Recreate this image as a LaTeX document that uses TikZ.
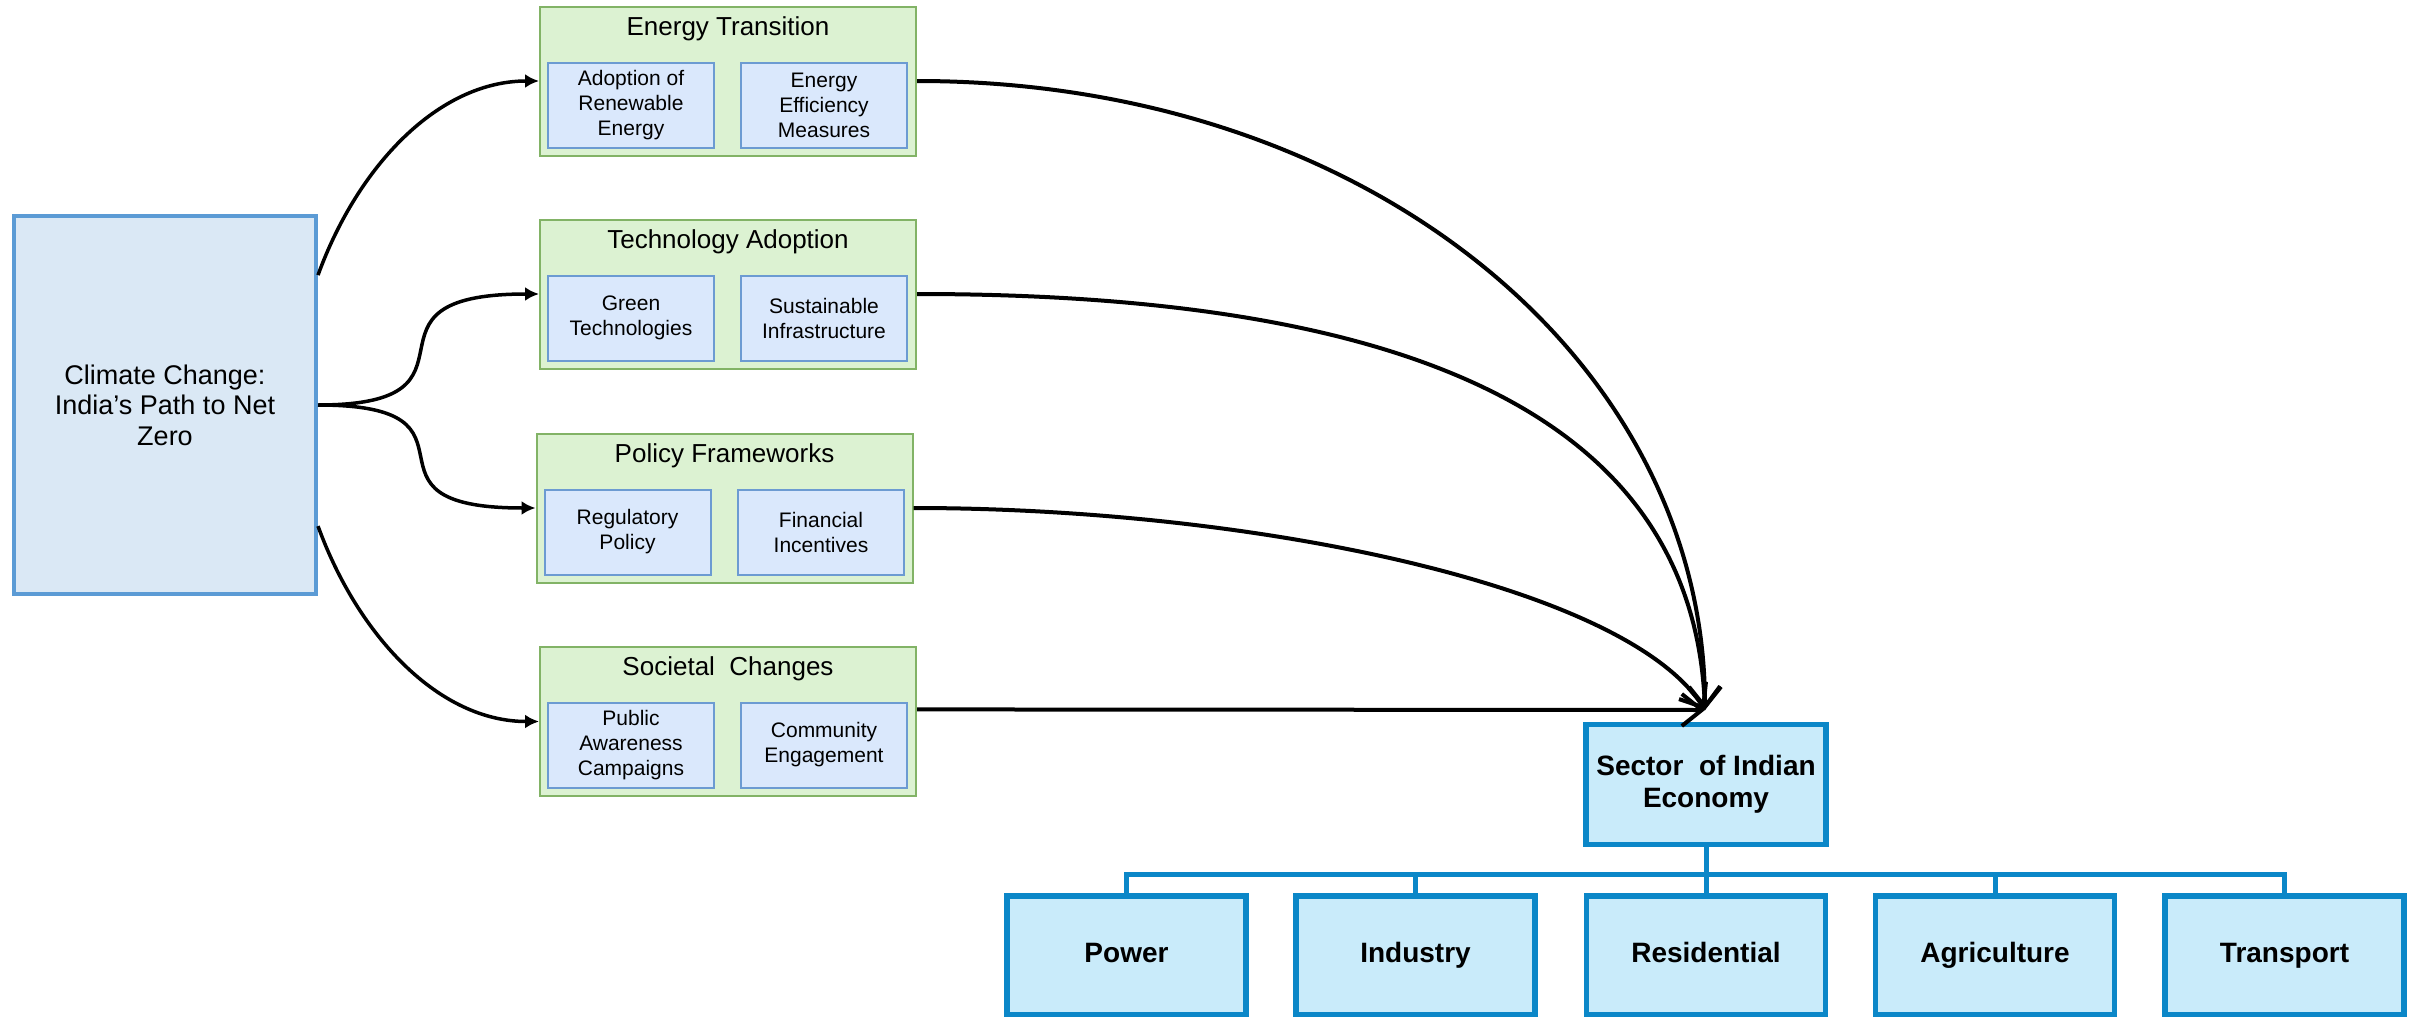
\documentclass[tikz,border=0pt]{standalone}
\usepackage{fontspec}
\setmainfont{Liberation Sans}
\usetikzlibrary{arrows.meta,calc}
\definecolor{climF}{HTML}{DAE8F5}
\definecolor{climB}{HTML}{5B9BD5}
\definecolor{grpF}{HTML}{DCF2D2}
\definecolor{grpB}{HTML}{82B366}
\definecolor{subF}{HTML}{DAE8FC}
\definecolor{subB}{HTML}{6C9BD2}
\definecolor{secF}{HTML}{C9EBFA}
\definecolor{secB}{HTML}{0B87C8}
\tikzset{
 climbox/.style={draw=climB, fill=climF, line width=4pt, minimum width=302pt, minimum height=378pt, inner sep=0pt, font=\fontsize{27}{30.5}\selectfont, align=center},
 grpbox/.style={draw=grpB, fill=grpF, line width=2pt, minimum width=376pt, minimum height=149pt, inner sep=0pt},
 grptitle/.style={font=\fontsize{26}{30}\selectfont, inner sep=0pt},
 subbox/.style={draw=subB, fill=subF, line width=2pt, minimum width=166pt, minimum height=85pt, inner sep=0pt, align=center, font=\fontsize{21}{25}\selectfont},
 secbox/.style={draw=secB, fill=secF, line width=5.5pt, minimum width=240pt, minimum height=120pt, inner sep=0pt, align=center, font=\bfseries\fontsize{28}{32}\selectfont},
 leafbox/.style={secbox, minimum width=239pt, minimum height=119pt, text height=20pt, text depth=6pt},
 tree/.style={draw=secB, line width=5pt},
 larrow/.style={-{Latex[length=14pt,width=14pt]}, line width=3.5pt},
 rarrow/.style={-{Straight Barb[length=20pt,width=32pt]}, line width=4pt},
}
\begin{document}
\begin{tikzpicture}[x=1pt,y=-1pt]
\useasboundingbox (0,0) rectangle (2415,1017);

% main source box
\node[climbox] (climate) at (165,405) {Climate Change:\\India’s Path to Net\\Zero};

% group boxes
\node[grpbox] (et) at (728,81) {};
\node[grptitle] (ett) at (728,29) {Energy Transition};
\node[subbox] (et1) at (631,105.5) {Adoption of\\Renewable\\Energy};
\node[subbox] (et2) at (824,105.5) {Energy\\Efficiency\\Measures};

\node[grpbox] (ta) at (728,294) {};
\node[grptitle] (tat) at (728,242) {Technology Adoption};
\node[subbox] (ta1) at (631,318) {Green\\Technologies};
\node[subbox] (ta2) at (824,318) {Sustainable\\Infrastructure};

\node[grpbox] (pf) at (724.5,508) {};
\node[grptitle] (pft) at (724.5,456) {Policy Frameworks};
\node[subbox] (pf1) at (627.5,532) {Regulatory\\Policy};
\node[subbox] (pf2) at (821,532) {Financial\\Incentives};

\node[grpbox] (sc) at (728,721.5) {};
\node[grptitle] (sct) at (728,669) {Societal~ Changes};
\node[subbox] (sc1) at (631,745) {Public\\Awareness\\Campaigns};
\node[subbox] (sc2) at (824,745) {Community\\Engagement};

% sector tree
\node[secbox] (sector) at (1706,784.5) {Sector\ \ of Indian\\Economy};
\node[leafbox] (power) at (1126.5,955.5) {Power};
\node[leafbox] (industry) at (1415.5,955.5) {Industry};
\node[leafbox] (resid) at (1706,955.5) {Residential};
\node[leafbox] (agri) at (1995,955.5) {Agriculture};
\node[leafbox] (transp) at (2284.5,955.5) {Transport};

\coordinate (hub) at ($(sector.south)+(0,27)$);
\draw[tree] (sector.south) -- (resid.north);
\draw[tree] (power.north) |- (transp.north |- hub) -- (transp.north);
\draw[tree] (industry.north) -- (industry.north |- hub);
\draw[tree] (agri.north) -- (agri.north |- hub);

% left connectors
\coordinate (cTop) at ($(climate.north east)!0.16!(climate.south east)$);
\coordinate (cBot) at ($(climate.north east)!0.817!(climate.south east)$);
\draw[larrow] (cTop) .. controls +(40,-110) and +(-100,0) .. (et.west);
\draw[larrow] (climate.east) .. controls +(184,0) and +(-200,0) .. (ta.west);
\draw[larrow] (climate.east) .. controls +(184,0) and +(-196,0) .. (pf.west);
\draw[larrow] (cBot) .. controls +(40,110) and +(-100,0) .. (sc.west);

% right connectors
\coordinate (tip) at (1705,710);
\coordinate (scOut) at ($(sc.north east)!0.42!(sc.south east)$);
\draw[rarrow] (et.east) .. controls +(450,0) and +(0,-350) .. (tip);
\draw[rarrow] (ta.east) .. controls +(480,0) and +(-12,-300) .. (tip);
\draw[rarrow] (pf.east) .. controls +(337,0) and +(-80,-125) .. (tip);
\draw[rarrow] (scOut) -- (tip);
\end{tikzpicture}
\end{document}
